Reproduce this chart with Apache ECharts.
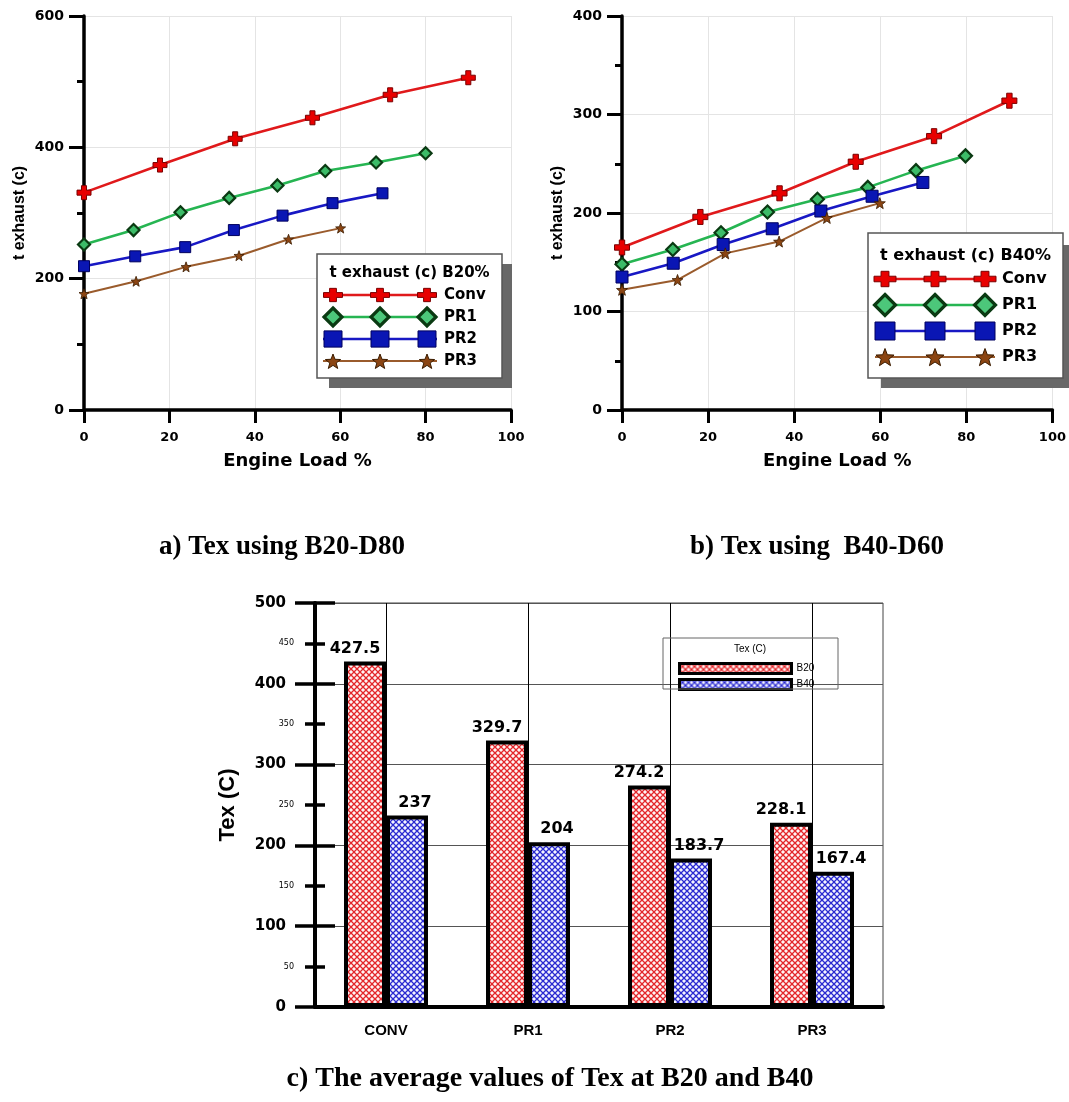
<!DOCTYPE html>
<html><head><meta charset="utf-8">
<script src="https://cdn.jsdelivr.net/npm/echarts@6/dist/echarts.min.js"></script>
<style>html,body{margin:0;padding:0;background:#fff}#c{width:1069px;height:1102px}</style>
</head><body><div id="c"></div>
<script>
// ---------- Data: (a) B20-D80 ----------
const loadA_conv = [0, 17.8, 35.4, 53.5, 71.7, 90];
const texA_conv  = [331, 373, 413, 445, 480, 506];
const loadA_pr1  = [0, 11.6, 22.6, 34.0, 45.3, 56.5, 68.4, 80];
const texA_pr1   = [252, 274, 301, 323, 342, 364, 377, 391];
const loadA_pr2  = [0, 12.0, 23.7, 35.1, 46.5, 58.2, 69.9];
const texA_pr2   = [219, 234, 248, 274, 296, 315, 330];
const loadA_pr3  = [0, 12.2, 23.9, 36.3, 47.9, 60.1];
const texA_pr3   = [177, 196, 218, 235, 260, 277];
// ---------- Data: (b) B40-D60 ----------
const loadB_conv = [0, 18.2, 36.6, 54.3, 72.5, 90];
const texB_conv  = [165, 196, 220, 252, 278, 314];
const loadB_pr1  = [0, 11.8, 23.0, 33.8, 45.4, 57.1, 68.3, 79.8];
const texB_pr1   = [148, 163, 180, 201, 214, 226, 243, 258];
const loadB_pr2  = [0, 11.9, 23.5, 34.9, 46.2, 58.1, 69.9];
const texB_pr2   = [135, 149, 168, 184, 202, 217, 231];
const loadB_pr3  = [0, 12.9, 24.0, 36.5, 47.6, 59.9];
const texB_pr3   = [122, 132, 159, 171, 195, 210];
// ---------- Data: (c) averages ----------
const barCategories = ['CONV', 'PR1', 'PR2', 'PR3'];
const texB20 = [427.5, 329.7, 274.2, 228.1];
const texB40 = [237, 204, 183.7, 167.4];
const seriesNames = ['Conv', 'PR1', 'PR2', 'PR3'];

const zip = (xs, ys) => xs.map((x, i) => [x, ys[i]]);

// ---------- styles ----------
const crossPath = 'path://M3.2,0H6.8V3.2H10V6.8H6.8V10H3.2V6.8H0V3.2H3.2Z';
function starPts(cx, cy, R) {
  const r = R * 0.42, pts = [];
  for (let i = 0; i < 10; i++) {
    const a = -Math.PI / 2 + i * Math.PI / 5, rr = i % 2 ? r : R;
    pts.push([cx + rr * Math.cos(a), cy + rr * Math.sin(a)]);
  }
  return pts;
}
const starPath = 'path://' + starPts(50, 52, 50).map((p, i) => (i ? 'L' : 'M') + p[0].toFixed(1) + ',' + p[1].toFixed(1)).join('') + 'Z';
function crossPts(cx, cy, w, h) {
  const tx = w * 0.18, ty = h * 0.18, hw = w / 2, hh = h / 2;
  return [[cx - tx, cy - hh], [cx + tx, cy - hh], [cx + tx, cy - ty], [cx + hw, cy - ty], [cx + hw, cy + ty], [cx + tx, cy + ty],
          [cx + tx, cy + hh], [cx - tx, cy + hh], [cx - tx, cy + ty], [cx - hw, cy + ty], [cx - hw, cy - ty], [cx - tx, cy - ty]];
}
const STY = {
  Conv: { line: '#e0191b', lw: 2.6, fill: '#e80000', stroke: '#7a0000', bw: 1 },
  PR1:  { line: '#26b552', lw: 2.6, fill: '#3cbc68', stroke: '#0a3a12', bw: 2.2 },
  PR2:  { line: '#1818c4', lw: 2.6, fill: '#0a16b4', stroke: '#00005e', bw: 1 },
  PR3:  { line: '#9a5b2c', lw: 2.0, fill: '#8b4513', stroke: '#3b1c00', bw: 0.8 }
};
const SYM = { Conv: crossPath, PR1: 'diamond', PR2: 'rect', PR3: starPath };

function lineSeries(name, data, gi, size) {
  const s = STY[name];
  return {
    type: 'line', name: name, xAxisIndex: gi, yAxisIndex: gi, data: data,
    symbol: SYM[name], symbolSize: size, showAllSymbol: true,
    lineStyle: { color: s.line, width: s.lw },
    itemStyle: { color: s.fill, borderColor: s.stroke, borderWidth: s.bw },
    z: 3
  };
}
const symA = { Conv: 14, PR1: 12, PR2: 11, PR3: 10 };
const symB = { Conv: 15, PR1: 13, PR2: 12, PR3: 11 };

function hatch(fg, bg) {
  const c = document.createElement('canvas'); c.width = c.height = 6;
  const g = c.getContext('2d');
  g.fillStyle = bg; g.fillRect(0, 0, 6, 6);
  g.strokeStyle = fg; g.lineWidth = 1.3;
  g.beginPath(); g.moveTo(0, 0); g.lineTo(6, 6); g.moveTo(6, 0); g.lineTo(0, 6); g.stroke();
  return c;
}
const redPat = { image: hatch('#e3262a', '#fff4f4'), repeat: 'repeat' };
const bluePat = { image: hatch('#2a2ad0', '#f4f4ff'), repeat: 'repeat' };

// ---------- custom line legends (decoration) ----------
function lineLegend(L) {
  const els = [];
  els.push({ type: 'rect', shape: { x: L.sx, y: L.sy, width: L.sw, height: L.sh }, style: { fill: '#686868' }, z: 50 });
  els.push({ type: 'rect', shape: { x: L.x, y: L.y, width: L.w, height: L.h }, style: { fill: '#fff', stroke: '#555', lineWidth: 1.5 }, z: 51 });
  els.push({ type: 'text', x: L.x + L.w / 2, y: L.ty, style: { text: L.title, font: 'bold ' + L.font + 'px "DejaVu Sans"', fill: '#000', textAlign: 'center', textVerticalAlign: 'middle', verticalAlign: 'middle' }, z: 52 });
  seriesNames.forEach((n, i) => {
    const s = STY[n], y = L.rows[i];
    els.push({ type: 'line', shape: { x1: L.lx1, y1: y, x2: L.lx2, y2: y }, style: { stroke: s.line, lineWidth: s.lw }, z: 52 });
    L.mx.forEach(cx => {
      const m = L.ms[n];
      let el;
      if (n === 'Conv') el = { type: 'polygon', shape: { points: crossPts(cx, y, m, m * 0.7) }, style: { fill: s.fill, stroke: s.stroke, lineWidth: 1 } };
      else if (n === 'PR1') el = { type: 'polygon', shape: { points: [[cx, y - m / 2], [cx + m / 2, y], [cx, y + m / 2], [cx - m / 2, y]] }, style: { fill: '#4cc77a', stroke: '#0a3a12', lineWidth: 3.2 } };
      else if (n === 'PR2') el = { type: 'rect', shape: { x: cx - m / 2, y: y - m * 0.45, width: m, height: m * 0.9 }, style: { fill: s.fill, stroke: s.stroke, lineWidth: 1 } };
      else el = { type: 'polygon', shape: { points: starPts(cx, y + 1, m / 2) }, style: { fill: s.fill, stroke: s.stroke, lineWidth: 1 } };
      el.z = 53; els.push(el);
    });
    els.push({ type: 'text', x: L.tx, y: y, style: { text: n, font: 'bold ' + L.font + 'px "DejaVu Sans"', fill: '#000', textAlign: 'left', textVerticalAlign: 'middle', verticalAlign: 'middle' }, z: 53 });
  });
  return els;
}
const legA = lineLegend({ x: 317, y: 254, w: 185, h: 124, sx: 329, sy: 264, sw: 183, sh: 124, title: 't exhaust (c) B20%', font: 15, ty: 273,
  rows: [295, 317, 339, 361], mx: [333, 380, 427], lx1: 323, lx2: 437, tx: 444, ms: { Conv: 19, PR1: 18, PR2: 18, PR3: 16 } });
const legB = lineLegend({ x: 868, y: 233, w: 195, h: 145, sx: 881, sy: 245, sw: 190, sh: 143, title: 't exhaust (c) B40%', font: 16, ty: 256,
  rows: [279, 305, 331, 357], mx: [885, 935, 985], lx1: 875, lx2: 995, tx: 1002, ms: { Conv: 22, PR1: 21, PR2: 20, PR3: 19 } });

const capFont = 'bold 27px "Liberation Serif"';
const captions = [
  { type: 'text', x: 282, y: 547, style: { text: 'a) Tex using B20-D80', font: capFont, fill: '#000', textAlign: 'center', textVerticalAlign: 'middle', verticalAlign: 'middle' } },
  { type: 'text', x: 817, y: 547, style: { text: 'b) Tex using  B40-D60', font: capFont, fill: '#000', textAlign: 'center', textVerticalAlign: 'middle', verticalAlign: 'middle' } },
  { type: 'text', x: 550, y: 1079, style: { text: 'c) The average values of Tex at B20 and B40', font: 'bold 28px "Liberation Serif"', fill: '#000', textAlign: 'center', textVerticalAlign: 'middle', verticalAlign: 'middle' } },
  // bar legend frame + title
  { type: 'rect', shape: { x: 663, y: 638, width: 175, height: 51 }, style: { fill: 'rgba(0,0,0,0)', stroke: '#666', lineWidth: 1 }, z: 60 },
  { type: 'text', x: 750, y: 649, style: { text: 'Tex (C)', font: '10px "Liberation Sans"', fill: '#000', textAlign: 'center', textVerticalAlign: 'middle', verticalAlign: 'middle' }, z: 60 }
];

// ---------- axes helpers ----------
const tickFont = { fontFamily: 'DejaVu Sans', fontWeight: 'bold', fontSize: 14, color: '#000' };
function valX(gi) {
  return {
    type: 'value', gridIndex: gi, min: 0, max: 100, interval: 20,
    axisLine: { lineStyle: { color: '#000', width: 3.5 } },
    axisTick: { length: 13, lineStyle: { color: '#000', width: 3 } },
    axisLabel: Object.assign({ margin: 21 }, tickFont, { fontSize: 13 }),
    splitLine: { show: true, lineStyle: { color: '#e4e4e4', width: 1 } },
    name: 'Engine Load %', nameLocation: 'middle', nameGap: 42,
    nameTextStyle: { fontFamily: 'DejaVu Sans', fontWeight: 'bold', fontSize: 18, color: '#000' }
  };
}
function valY(gi, max, interval) {
  return {
    type: 'value', gridIndex: gi, position: 'left', min: 0, max: max, interval: interval,
    axisLine: { show: true, lineStyle: { color: '#000', width: 3.5 } },
    axisTick: { show: true, length: 15, lineStyle: { color: '#000', width: 3 } },
    minorTick: { show: true, splitNumber: 2, length: 7, lineStyle: { color: '#000', width: 3 } },
    axisLabel: Object.assign({ margin: 20 }, tickFont),
    splitLine: { show: true, lineStyle: { color: '#e4e4e4', width: 1 } },
    name: 't exhaust (c)', nameLocation: 'middle', nameGap: 56, nameRotate: 90,
    nameTextStyle: { fontFamily: 'Liberation Sans', fontWeight: 'bold', fontSize: 16, color: '#000' }
  };
}

const option = {
  animation: false,
  backgroundColor: '#fff',
  grid: [
    { left: 84, top: 16, width: 427, height: 394 },
    { left: 622, top: 16, width: 452, height: 394 },
    { left: 315, top: 603, width: 568, height: 404, show: true, borderColor: '#444', borderWidth: 1, backgroundColor: 'transparent' }
  ],
  xAxis: [
    valX(0), valX(1),
    {
      type: 'category', gridIndex: 2, data: barCategories,
      axisLine: { lineStyle: { color: '#000', width: 4 } },
      axisTick: { alignWithLabel: true, length: 14, lineStyle: { color: '#000', width: 3.5 } },
      axisLabel: { margin: 16, fontFamily: 'Liberation Sans', fontWeight: 'bold', fontSize: 15, color: '#000' },
      splitLine: { show: false }
    }
  ],
  yAxis: [
    valY(0, 600, 200), valY(1, 400, 100),
    {
      type: 'value', gridIndex: 2, position: 'left', min: 0, max: 500, interval: 50,
      axisLine: { show: true, lineStyle: { color: '#000', width: 4 } },
      axisTick: { show: false },
      axisLabel: {
        margin: 21, color: '#000',
        formatter: v => (v % 100 === 0 ? '{b|' + v + '}' : '{s|' + v + '}'),
        rich: {
          b: { fontFamily: 'DejaVu Sans', fontWeight: 'bold', fontSize: 15, color: '#000', padding: [0, 8, 0, 0] },
          s: { fontFamily: 'DejaVu Sans', fontSize: 8, color: '#000' }
        }
      },
      splitLine: { show: false },
      name: 'Tex (C)', nameLocation: 'middle', nameGap: 76, nameRotate: 90,
      nameTextStyle: { fontFamily: 'Liberation Sans', fontWeight: 'bold', fontSize: 22, color: '#000' }
    },
    {
      type: 'value', gridIndex: 2, position: 'left', min: 0, max: 500, interval: 100,
      axisLine: { show: false }, axisLabel: { show: false },
      axisTick: { show: true, length: 20, lineStyle: { color: '#000', width: 3.5 } },
      minorTick: { show: true, splitNumber: 2, length: 10, lineStyle: { color: '#000', width: 3.5 } },
      splitLine: { show: true, lineStyle: { color: '#555', width: 1 } }
    },
    {
      type: 'value', gridIndex: 2, position: 'left', min: 0, max: 500, interval: 100,
      axisLine: { show: false }, axisLabel: { show: false },
      axisTick: { show: true, inside: true, length: 20, lineStyle: { color: '#000', width: 3.5 } },
      minorTick: { show: true, splitNumber: 2, length: 10, lineStyle: { color: '#000', width: 3.5 } },
      splitLine: { show: false }
    }
  ],
  legend: {
    data: ['B20', 'B40'], orient: 'vertical', left: 673, top: 657,
    itemWidth: 112, itemHeight: 10, itemGap: 3, icon: 'rect',
    itemStyle: { borderColor: '#000', borderWidth: 3 },
    textStyle: { fontFamily: 'Liberation Sans', fontSize: 10, color: '#000' },
    selectedMode: false
  },
  series: [
    lineSeries('Conv', zip(loadA_conv, texA_conv), 0, symA.Conv),
    lineSeries('PR1', zip(loadA_pr1, texA_pr1), 0, symA.PR1),
    lineSeries('PR2', zip(loadA_pr2, texA_pr2), 0, symA.PR2),
    lineSeries('PR3', zip(loadA_pr3, texA_pr3), 0, symA.PR3),
    lineSeries('Conv', zip(loadB_conv, texB_conv), 1, symB.Conv),
    lineSeries('PR1', zip(loadB_pr1, texB_pr1), 1, symB.PR1),
    lineSeries('PR2', zip(loadB_pr2, texB_pr2), 1, symB.PR2),
    lineSeries('PR3', zip(loadB_pr3, texB_pr3), 1, symB.PR3),
    {
      // vertical grid lines at category centres
      type: 'line', name: 'grid', xAxisIndex: 2, yAxisIndex: 2, data: [], silent: true, z: 1,
      markLine: {
        silent: true, symbol: 'none', label: { show: false }, z: 1,
        lineStyle: { color: '#000', width: 1, type: 'solid' },
        data: barCategories.map(c => ({ xAxis: c }))
      }
    },
    {
      type: 'bar', name: 'B20', xAxisIndex: 2, yAxisIndex: 2, data: texB20,
      barWidth: 42, barGap: '0%',
      itemStyle: { color: redPat, borderColor: '#000', borderWidth: 4 },
      label: { show: true, position: 'top', distance: 5, offset: [-10, 0], fontFamily: 'DejaVu Sans', fontWeight: 'bold', fontSize: 16, color: '#000' },
      z: 2
    },
    {
      type: 'bar', name: 'B40', xAxisIndex: 2, yAxisIndex: 2, data: texB40,
      barWidth: 42, barGap: '0%',
      itemStyle: { color: bluePat, borderColor: '#000', borderWidth: 4 },
      label: { show: true, position: 'top', distance: 5, offset: [8, 0], fontFamily: 'DejaVu Sans', fontWeight: 'bold', fontSize: 16, color: '#000' },
      z: 2
    }
  ],
  graphic: legA.concat(legB, captions)
};
const chart = echarts.init(document.getElementById('c'));
chart.setOption(option);
</script>
</body></html>
